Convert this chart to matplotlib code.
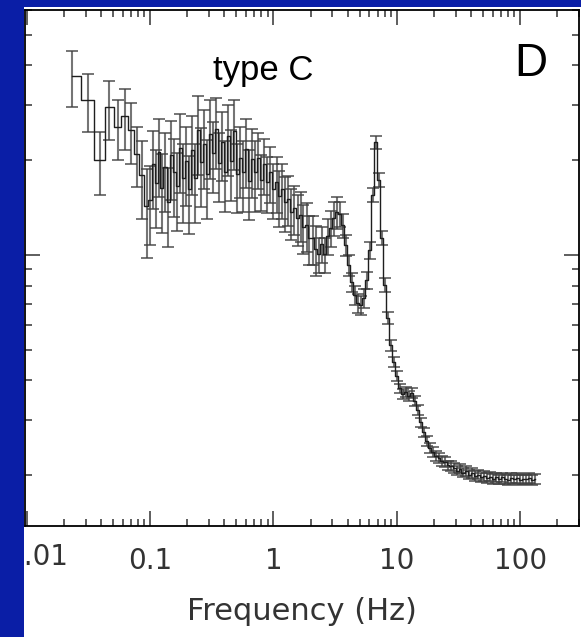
import matplotlib
matplotlib.use("Agg")
import matplotlib.pyplot as plt
from matplotlib.patches import Rectangle
from matplotlib.ticker import LogLocator, FixedLocator, FixedFormatter, NullFormatter

# ---------------- data ----------------
freq_low = [0.0234, 0.0313, 0.0391, 0.0469, 0.0547, 0.0625, 0.0703, 0.0781, 0.0859, 0.0938]
power_low = [0.037, 0.031, 0.020, 0.0295, 0.0255, 0.0276, 0.0250, 0.021, 0.018, 0.0143]
err_low = [0.0075, 0.0065, 0.0045, 0.0063, 0.0055, 0.0060, 0.0055, 0.0045, 0.0050, 0.0045]

freq_main = [
    0.100, 0.106, 0.112, 0.118, 0.125, 0.132, 0.140, 0.148, 0.157, 0.166, 0.175, 0.186, 0.196, 0.208,
    0.220, 0.232, 0.246, 0.260, 0.275, 0.291, 0.308, 0.325, 0.344, 0.364, 0.385, 0.407, 0.431, 0.456,
    0.482, 0.510, 0.540, 0.571, 0.604, 0.639, 0.676, 0.715, 0.756, 0.800, 0.846, 0.895, 0.946,
    1.00, 1.06, 1.12, 1.18, 1.25, 1.32, 1.40, 1.48, 1.57, 1.66, 1.75, 1.86, 1.96, 2.08,
    2.20, 2.32, 2.46, 2.60, 2.75, 2.91, 3.08, 3.25, 3.44, 3.64, 3.85, 4.07, 4.31, 4.56,
    4.82, 5.10, 5.40, 5.71, 6.04, 6.39, 6.76, 7.15, 7.56, 8.00, 8.46, 8.95, 9.46,
    10.0, 10.6, 11.2, 11.8, 12.5, 13.2, 14.0, 14.8, 15.7, 16.6, 17.5, 18.6, 19.6, 20.8,
    22.0, 23.2, 24.6, 26.0, 27.5, 29.1, 30.8, 32.5, 34.4, 36.4, 38.5, 40.7, 43.1, 45.6,
    48.2, 51.0, 54.0, 57.1, 60.4, 63.9, 67.6, 71.5, 75.6, 80.0, 84.6, 89.5, 94.6,
    100.0, 106.0, 112.0, 118.0, 125.0, 132.0,
]
power_main = [
    0.01495, 0.01945, 0.01693, 0.02123, 0.01632, 0.01903, 0.01473, 0.02078, 0.01834, 0.01656, 0.02186,
    0.01756, 0.01988, 0.01620, 0.02155, 0.01756, 0.02494, 0.01974, 0.02251, 0.01808, 0.02422,
    0.02108, 0.02512, 0.01959, 0.02285, 0.01834, 0.02387, 0.01988, 0.02476, 0.01808, 0.02032,
    0.01834, 0.02170, 0.01718, 0.02018, 0.01834, 0.02032, 0.01730, 0.01945, 0.01705, 0.01834,
    0.01620, 0.01705, 0.01539, 0.01620, 0.01473, 0.01506, 0.01369, 0.01410, 0.01311, 0.01340,
    0.01227, 0.01245, 0.01132, 0.01132, 0.01045, 0.01007, 0.01084, 0.01007, 0.01149, 0.01218,
    0.01311, 0.01369, 0.01349, 0.01245, 0.01076, 0.00930, 0.00821, 0.00746, 0.00704, 0.00694,
    0.00730, 0.00833, 0.01037, 0.01551, 0.02285, 0.01730, 0.01132, 0.00803, 0.00631, 0.00518,
    0.00457, 0.00413, 0.00378, 0.00362, 0.00367, 0.00357, 0.00365, 0.00344, 0.00322, 0.00295,
    0.00274, 0.00257, 0.00244, 0.00237, 0.00230, 0.00227, 0.00222, 0.00220, 0.00215, 0.00214,
    0.00211, 0.00207, 0.00210, 0.00204, 0.00206, 0.00201, 0.00203, 0.00199, 0.00201, 0.00197,
    0.00199, 0.00196, 0.00198, 0.00195, 0.00197, 0.00194, 0.00197, 0.00195, 0.00193, 0.00196,
    0.00194, 0.00196, 0.00193, 0.00195, 0.00194, 0.00196, 0.00193, 0.00195,
]
err_main = [
    0.0042, 0.0054, 0.0047, 0.0059, 0.0046, 0.0053, 0.0041, 0.0058, 0.0051, 0.0046, 0.0061,
    0.0049, 0.0056, 0.0045, 0.0060, 0.0049, 0.0070, 0.0055, 0.0063, 0.0051, 0.0068,
    0.0053, 0.0063, 0.0049, 0.0057, 0.0046, 0.0060, 0.0050, 0.0062, 0.0045, 0.0051,
    0.0046, 0.0054, 0.0043, 0.0050, 0.0046, 0.0041, 0.0035, 0.0039, 0.0034, 0.0037,
    0.0032, 0.0034, 0.0031, 0.0032, 0.0029, 0.0027, 0.0025, 0.0025, 0.0024, 0.0024,
    0.0022, 0.0022, 0.0020, 0.0020, 0.0019, 0.0013, 0.0014, 0.0013, 0.0015, 0.0016,
    0.0016, 0.0016, 0.0012, 0.0011, 0.00086, 0.00074, 0.00057, 0.00052, 0.00049, 0.00049,
    0.00051, 0.00050, 0.00062, 0.00078, 0.0011, 0.00087, 0.00057, 0.00040, 0.00028, 0.00021,
    0.00016, 0.00014, 0.00013, 0.00013, 0.00013, 0.00012, 0.00013, 0.00012, 0.00011, 0.00010,
    0.000090, 0.000090, 0.000085, 0.000083, 0.000080, 0.000080, 0.000078, 0.000077, 0.000075, 0.000075,
    0.000074, 0.000073, 0.000073, 0.000072, 0.000072, 0.000070, 0.000071, 0.000070, 0.000070, 0.000069,
    0.000070, 0.000069, 0.000069, 0.000068, 0.000069, 0.000068, 0.000069, 0.000068, 0.000068, 0.000069,
    0.000068, 0.000069, 0.000068, 0.000068, 0.000068, 0.000069, 0.000068, 0.000068,
]

xtick_values = [0.01, 0.1, 1, 10, 100]
xtick_labels = ["", "0.1", "1", "10", "100"]
x_label = "Frequency (Hz)"
panel_title = "type C"
panel_letter = "D"

freq = freq_low + freq_main
power = power_low + power_main
err = err_low + err_main

# ---------------- figure ----------------
W, H = 581, 637
fig = plt.figure(figsize=(W / 100, H / 100), dpi=100, facecolor="white")
ax = fig.add_axes([25 / W, (H - 526) / H, (579 - 25) / W, (526 - 9.5) / H])
ax.set_facecolor("white")

ax.errorbar(freq, power, yerr=err, fmt="none", ecolor=(0.25, 0.25, 0.25, 0.72),
            elinewidth=1.5, capsize=4.5, capthick=1.4, zorder=2)
ax.plot(freq, power, drawstyle="steps-mid", color="#1e1e1e", lw=1.0, zorder=3)

ax.set_xscale("log")
ax.set_yscale("log")
ax.set_xlim(0.00969, 300)
ax.set_ylim(0.00138, 0.0602)

ax.xaxis.set_major_locator(FixedLocator(xtick_values))
ax.xaxis.set_major_formatter(FixedFormatter(xtick_labels))
ax.xaxis.set_minor_locator(LogLocator(base=10, subs=[2, 3, 4, 5, 6, 7, 8, 9], numticks=20))
ax.xaxis.set_minor_formatter(NullFormatter())
ax.yaxis.set_major_locator(LogLocator(base=10, numticks=10))
ax.yaxis.set_minor_locator(LogLocator(base=10, subs=[2, 3, 4, 5, 6, 7, 8, 9], numticks=20))
ax.yaxis.set_major_formatter(NullFormatter())
ax.yaxis.set_minor_formatter(NullFormatter())

ax.tick_params(which="both", direction="in", top=True, right=True, color="#333333", width=1.1)
ax.tick_params(which="major", length=10.5)
ax.tick_params(which="minor", length=5.0)
ax.tick_params(axis="x", which="major", pad=15, labelsize=20, labelcolor="#333333")
ax.tick_params(axis="y", labelleft=False)
for lab in ax.get_xticklabels():
    lab.set_family("DejaVu Sans")

for s in ax.spines.values():
    s.set_linewidth(1.3)
    s.set_color("black")

# partially hidden first tick label
fig.text(68 / W, 1 - 557 / H, "0.01", ha="right", va="center", fontsize=20,
         color="#333333", family="DejaVu Sans", zorder=5)
fig.text(302 / W, 1 - 612 / H, x_label, ha="center", va="center", fontsize=22,
         color="#333333", family="DejaVu Sans")

fig.text(213 / W, 1 - 80 / H, panel_title, ha="left", va="baseline", fontsize=25,
         color="black", family="Liberation Sans")
fig.text(514 / W, 1 - 76 / H, panel_letter, ha="left", va="baseline", fontsize=33,
         color="black", family="Liberation Sans")

# blue frame
blue = "#0a1ea6"
fig.add_artist(Rectangle((0, 0), 24 / W, 1, transform=fig.transFigure,
                         facecolor=blue, edgecolor="none", zorder=10))
fig.add_artist(Rectangle((0, 1 - 7 / H), 1, 7 / H, transform=fig.transFigure,
                         facecolor=blue, edgecolor="none", zorder=10))

fig.savefig("out.png", dpi=100, facecolor="white")
